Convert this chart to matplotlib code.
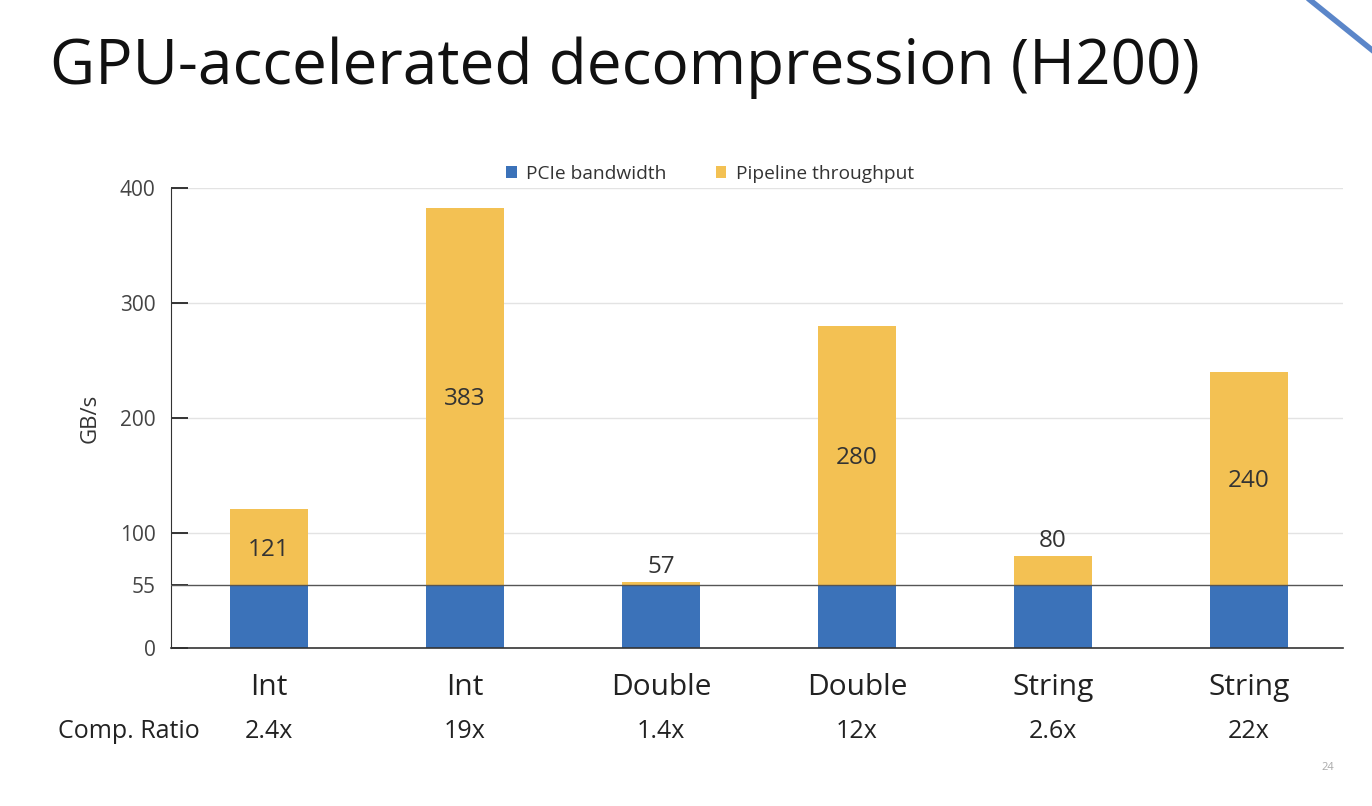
import matplotlib
matplotlib.use("Agg")
import matplotlib.pyplot as plt
from matplotlib.lines import Line2D
from matplotlib.patches import Patch
import matplotlib.transforms as mtransforms

categories = ["Int", "Int", "Double", "Double", "String", "String"]
ratios = ["2.4x", "19x", "1.4x", "12x", "2.6x", "22x"]
pcie = [55, 55, 55, 55, 55, 55]
totals = [121, 383, 57, 280, 80, 240]
label_inside = [True, True, False, True, False, True]
yticks = [0, 55, 100, 200, 300, 400]

BLUE = "#3b72b9"
ORANGE = "#f3c153"

plt.rcParams['font.family'] = ['Open Sans', 'DejaVu Sans']

fig = plt.figure(figsize=(13.72, 8.06), dpi=100)
fig.patch.set_facecolor("white")
ax = fig.add_axes([171/1372, 1-648/806, (1343-171)/1372, (648-188)/806])

x = list(range(len(categories)))
pipe = [t - p for t, p in zip(totals, pcie)]
ax.bar(x, pcie, width=0.4, color=BLUE, zorder=2)
ax.bar(x, pipe, width=0.4, bottom=pcie, color=ORANGE, zorder=2)

for xi, t, p, inside in zip(x, totals, pcie, label_inside):
    if inside:
        ax.text(xi, (t + p) / 2, str(t), ha="center", va="center_baseline", fontsize=17.5, color="#333333", zorder=4)
    else:
        ax.text(xi, t + 3, str(t), ha="center", va="bottom", fontsize=17.5, color="#333333", zorder=4)

ax.set_xlim(-0.5, 5.48)
ax.set_ylim(0, 400)
ax.set_yticks(yticks)
ax.set_yticklabels([str(v) for v in yticks], fontsize=15, color="#444444")
for v in [100, 200, 300, 400]:
    ax.axhline(v, color="#e3e3e3", lw=1, zorder=0)
ax.axhline(55, color="#555555", lw=1, zorder=3)

ax.spines["top"].set_visible(False)
ax.spines["right"].set_visible(False)
ax.spines["left"].set_color("#333333")
ax.spines["bottom"].set_color("#333333")
ax.spines["bottom"].set_linewidth(1.2)
ax.tick_params(axis="y", direction="in", length=12, width=1.4, color="#333333", pad=11)
ax.set_xticks(x)
ax.set_xticklabels(categories, fontsize=21.5, color="#222222")
ax.tick_params(axis="x", length=0, pad=18)
ax.set_ylabel("GB/s", fontsize=16, color="#333333", labelpad=14)

trans = mtransforms.blended_transform_factory(ax.transData, fig.transFigure)
for xi, r in zip(x, ratios):
    fig.text(xi, 1 - 732/806, r, transform=trans, fontsize=18, color="#222222", ha="center", va="center")
fig.text(129/1372, 1 - 732/806, "Comp. Ratio", fontsize=18, color="#222222", ha="center", va="center")

handles = [Patch(facecolor=BLUE, label="PCIe bandwidth"), Patch(facecolor=ORANGE, label="Pipeline throughput")]
fig.legend(handles=handles, loc="center", bbox_to_anchor=(710/1372, 1 - 174/806), ncol=2, frameon=False,
           fontsize=13.8, handlelength=0.55, handleheight=0.55, columnspacing=2.55, handletextpad=0.5,
           labelcolor="#333333")

fig.text(50/1372, 1 - 68/806, "GPU-accelerated decompression (H200)", fontsize=44.7, color="#111111",
         ha="left", va="center")
fig.text(1328/1372, 1 - 767/806, "24", fontsize=8, color="#aaaaaa", ha="center", va="center")
fig.add_artist(Line2D([1310/1372, 1.0], [1.0, 1 - 50/806], transform=fig.transFigure, color="#5b86c9", lw=4))

fig.savefig("out.png", dpi=100)
